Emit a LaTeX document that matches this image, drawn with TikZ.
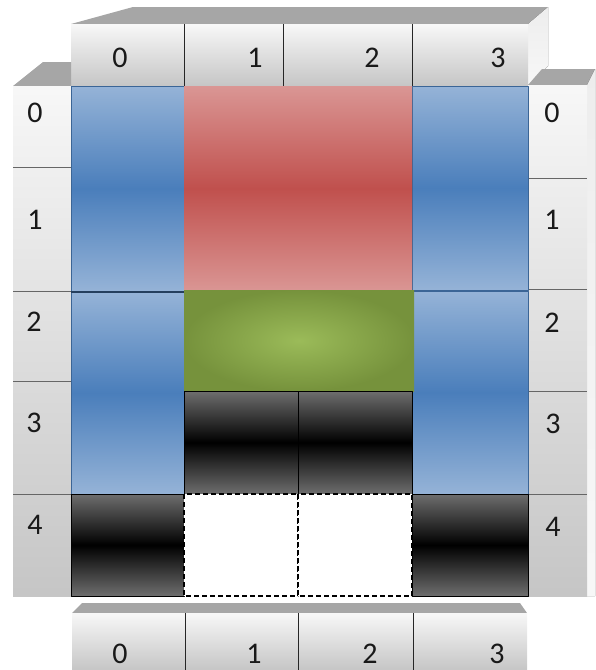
\documentclass[tikz,border=0pt]{standalone}
\usepackage{fontspec}
\setmainfont{Carlito}
\definecolor{blueL}{HTML}{95B3D7}
\definecolor{blueD}{HTML}{4A7EBB}
\definecolor{redL}{HTML}{DA9694}
\definecolor{redD}{HTML}{C0504D}
\definecolor{greenL}{HTML}{9BBB59}
\definecolor{greenD}{HTML}{76923C}
\definecolor{greyD}{HTML}{6E6E6E}
\definecolor{capgrey}{HTML}{A6A6A6}
\begin{document}
\begin{tikzpicture}[
    x=1pt, y=-1pt,
    line join=round,
    lbl/.style={inner sep=0pt,text=black!90,
        font=\fontsize{30pt}{30pt}\selectfont},
    front/.style={top color=gray!6,bottom color=gray!45},
    capface/.style={fill=capgrey},
    sideface/.style={top color=gray!14,bottom color=gray!6},
    divider/.style={draw=black!85,line width=0.9pt},
    rowline/.style={draw=black!60,line width=1pt},
    bluecell/.style={top color=blueL,bottom color=blueL,middle color=blueD,
        draw=blueD!80!black,line width=0.5pt},
    redcell/.style={top color=redL,bottom color=redL,middle color=redD},
    greencell/.style={inner color=greenL,outer color=greenD},
    darkcell/.style={top color=greyD,bottom color=greyD,middle color=black,
        draw=black,line width=0.8pt},
    emptycell/.style={fill=white,draw=black,line width=1.3pt,
        dash pattern=on 5pt off 3pt}
]
    \useasboundingbox (0,0) rectangle (595,670);

    % Top header: cap, side and front faces.
    \fill[capface] (71,24)--(133,7)--(548,7)--(528,24)--cycle;
    \fill[sideface] (528,24)--(548,7)--(548,66)--(528,86)--cycle;
    \fill[front] (71,24) rectangle (528,86);
    \foreach \xd in {184,283,412}
        \draw[divider] (\xd,24)--(\xd,86);

    % Left and right index columns.
    \fill[capface] (13,86)--(43,62)--(71,62)--(71,86)--cycle;
    \fill[front] (13,86) rectangle (71,596);
    \foreach \yd in {167,291,381,494}
        \draw[rowline] (13,\yd)--(71,\yd);
    \fill[capface] (528,85)--(542,69)--(595,69)--(587,85)--cycle;
    \fill[sideface] (587,85)--(595,69)--(595,596)--(587,596)--cycle;
    \fill[front] (528,85) rectangle (587,596);
    \foreach \yd in {178,289,391,494}
        \draw[rowline] (528,\yd)--(587,\yd);

    % Bottom header.
    \fill[capface] (82,603)--(520,603)--(527,613)--(72,613)--cycle;
    \fill[front] (72,613) rectangle (527,670);
    \foreach \xd in {185,298,413}
        \draw[divider] (\xd,613)--(\xd,670);

    % Blocks of the grid.
    \path[bluecell] (71,86) rectangle (184,291);
    \path[bluecell] (71,292) rectangle (184,494);
    \path[bluecell] (412,86) rectangle (528,290);
    \path[bluecell] (412,291) rectangle (528,494);
    \path[redcell] (184,86) rectangle (412,291);
    \path[greencell] (184,290) rectangle (414,391);
    \draw[blueD!50!black,line width=1.2pt] (71,292)--(184,292);
    \path[darkcell] (184,391) rectangle (298,494);
    \path[darkcell] (298,391) rectangle (412,494);
    \path[darkcell] (71,494) rectangle (184,596);
    \path[darkcell] (412,494) rectangle (528,596);
    \path[emptycell] (184,494) rectangle (298,596);
    \path[emptycell] (298,494) rectangle (412,596);

    % Index labels.
    \node[lbl] (t0) at (120,58) {0};
    \node[lbl] (t1) at (255,58) {1};
    \node[lbl] (t2) at (372,58) {2};
    \node[lbl] (t3) at (498,58) {3};
    \node[lbl] (b0) at (120,654) {0};
    \node[lbl] (b1) at (254,654) {1};
    \node[lbl] (b2) at (370,654) {2};
    \node[lbl] (b3) at (497,654) {3};
    \node[lbl] (l0) at (35,113) {0};
    \node[lbl] (l1) at (35,220) {1};
    \node[lbl] (l2) at (34,322) {2};
    \node[lbl] (l3) at (34,423) {3};
    \node[lbl] (l4) at (35,525) {4};
    \node[lbl] (r0) at (552,113) {0};
    \node[lbl] (r1) at (552,220) {1};
    \node[lbl] (r2) at (552,323) {2};
    \node[lbl] (r3) at (553,424) {3};
    \node[lbl] (r4) at (553,527) {4};
\end{tikzpicture}
\end{document}
